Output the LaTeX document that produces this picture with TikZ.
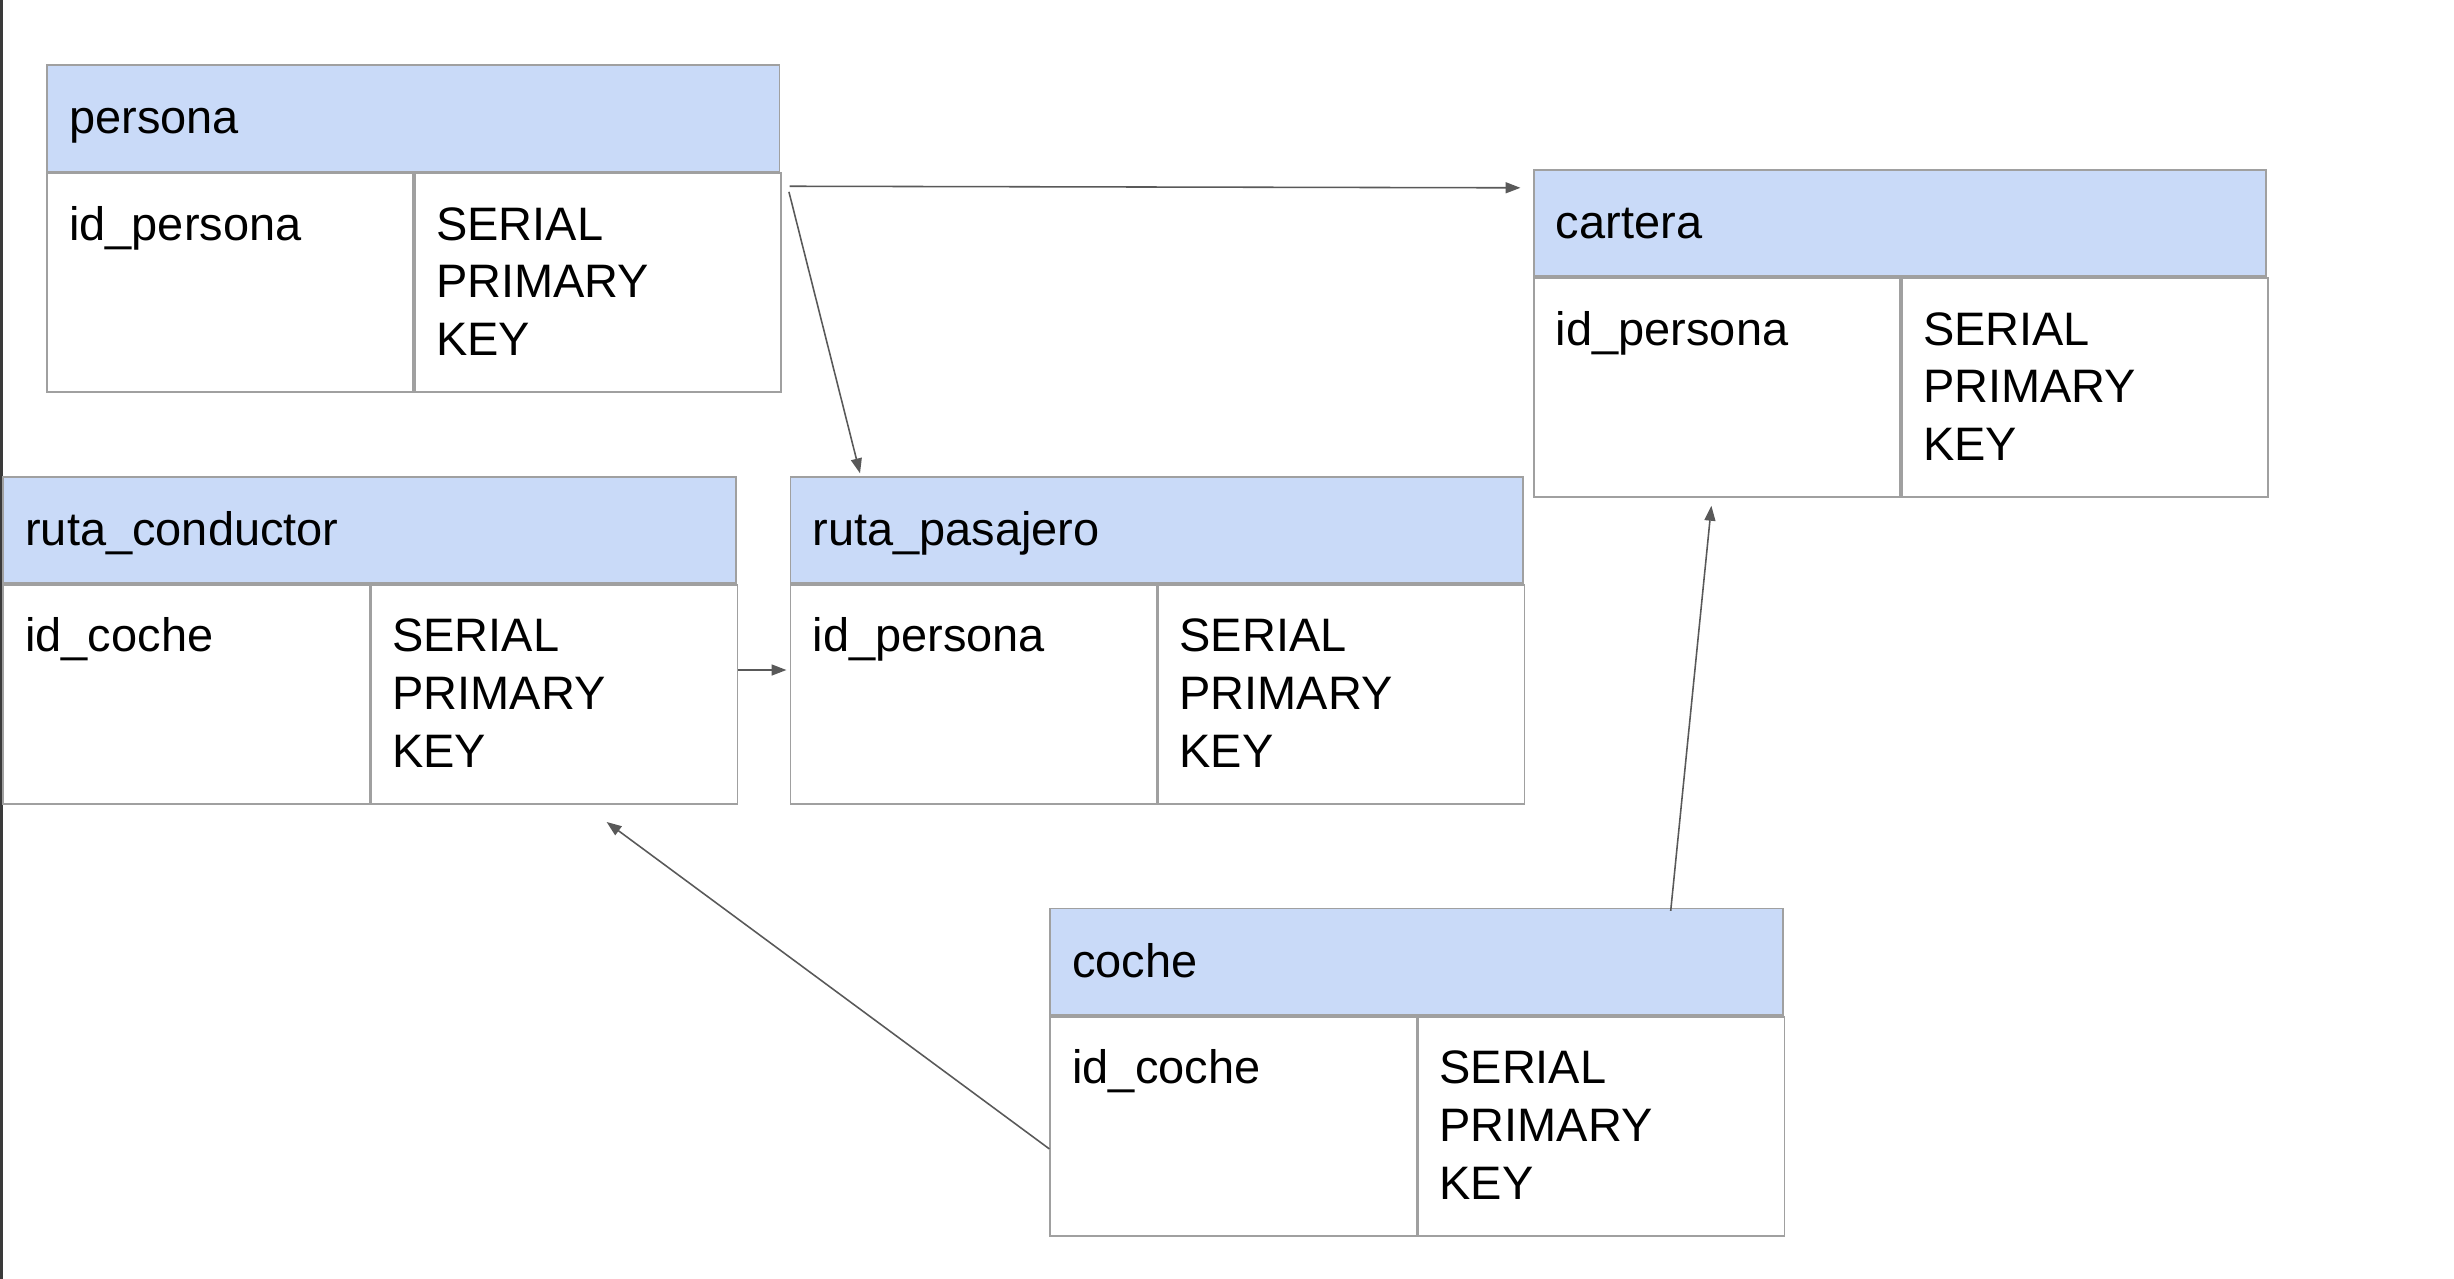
\documentclass[tikz,border=0pt]{standalone}
\usepackage{fontspec}
\setmainfont{Liberation Sans}
\usetikzlibrary{calc,arrows.meta}
\definecolor{hdrfill}{HTML}{C9DAF8}
\definecolor{bordergray}{HTML}{A0A0A0}
\definecolor{arrowgray}{HTML}{595959}
\definecolor{framegray}{HTML}{3A3A3A}
\tikzset{
  hdr/.style={draw=bordergray, fill=hdrfill, line width=1.1pt, inner sep=0pt, minimum width=468pt, minimum height=68pt},
  cellbox/.style={draw=bordergray, fill=white, line width=1.1pt, inner sep=0pt, minimum width=234pt, minimum height=140pt},
  txt/.style={inner sep=0pt, font=\fontsize{30}{36.8}\selectfont, text=black},
  arr/.style={draw=arrowgray, line width=1pt, -{Triangle[length=9.5pt,width=7pt]}}
}
\newcommand{\dbtab}[5]{%
  \node[hdr, anchor=north west] (#1) at (#2,#3) {};
  \node[cellbox, anchor=north west] (#1-l) at (#1.south west) {};
  \node[cellbox, anchor=north west] (#1-r) at (#1-l.north east) {};
  \node[txt, anchor=base west] (#1-t) at ($(#1.north west)+(14.5,44.5)$) {#4};
  \node[txt, anchor=base west] (#1-f) at ($(#1.north west)+(14.5,112.5)$) {#5};
  \node[txt, anchor=base west] (#1-k1) at ($(#1.north west)+(249,112.5)$) {SERIAL};
  \node[txt, anchor=base west] (#1-k2) at ($(#1.north west)+(249,149.3)$) {PRIMARY};
  \node[txt, anchor=base west] (#1-k3) at ($(#1.north west)+(249,186.1)$) {KEY};
}
\begin{document}
\begin{tikzpicture}[x=1pt, y=-1pt]
\useasboundingbox (0,0) rectangle (1568,817);
\fill[white] (0,0) rectangle (1568,817);
\draw[framegray, line width=1.6pt] (0.8,0) -- (0.8,817);
\dbtab{persona}{29.5}{41}{persona}{id\_persona}
\dbtab{cartera}{979.5}{108}{cartera}{id\_persona}
\dbtab{rutac}{1.5}{304}{ruta\_conductor}{id\_coche}
\dbtab{rutap}{504.5}{304}{ruta\_pasajero}{id\_persona}
\dbtab{coche}{670.5}{580}{coche}{id\_coche}
% connectors
\draw[arr] ($(persona.north east)+(6,78)$) -- ($(cartera.north west)+(-8,12)$);
\draw[arr] ($(persona.north east)+(5.5,81.6)$) -- ($(rutap.north west)+(45,-1.6)$);
\draw[arr] ($(rutac-r.north east)+(0,55)$) -- ($(rutap-l.north west)+(-2,55)$);
\draw[arr] ($(coche-l.north west)+(0,85)$) -- ($(rutac-r.south west)+(151,11)$);
\draw[arr] ($(coche.north west)+(397,2)$) -- ($(cartera-l.south west)+(114,5)$);
\end{tikzpicture}
\end{document}
